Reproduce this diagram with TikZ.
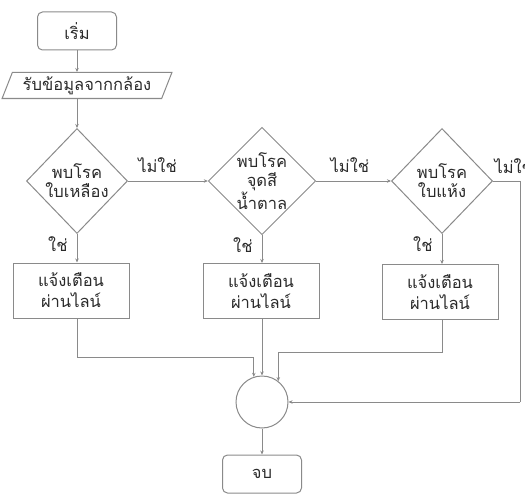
\documentclass[tikz,border=0pt]{standalone}
\usepackage{fontspec}
\newfontfamily\thaifont[Script=Thai]{Loma}
\usetikzlibrary{shapes.geometric,arrows.meta}
\definecolor{ln}{HTML}{8A8A8A}
\definecolor{tx}{HTML}{2A2A2A}
\begin{document}
\begin{tikzpicture}[x=1pt,y=-1pt,
  every node/.style={font=\thaifont\fontsize{16.5}{18}\selectfont, text=tx},
  term/.style={draw=ln, line width=1pt, rounded corners=5pt, minimum width=79pt, minimum height=38pt, inner sep=0pt},
  io/.style={draw=ln, line width=1pt, trapezium, trapezium left angle=64, trapezium right angle=116, trapezium stretches=true, minimum width=170pt, minimum height=26pt, inner sep=0pt},
  dec/.style={draw=ln, line width=1pt, diamond, minimum width=101pt, minimum height=105pt, inner sep=0pt, align=center, font=\thaifont\fontsize{16.5}{19}\selectfont},
  proc/.style={draw=ln, line width=1pt, minimum width=116pt, minimum height=55pt, inner sep=0pt, align=center, font=\thaifont\fontsize{16.5}{21}\selectfont},
  joint/.style={draw=ln, line width=1pt, circle, minimum size=52pt, inner sep=0pt},
  arr/.style={draw=ln, line width=1pt, -{Stealth[length=4pt,width=3.5pt]}},
  lbl/.style={inner sep=1pt}
]
\useasboundingbox (0,0) rectangle (525,495);
\node[term] (start) at (77,31) {เริ่ม};
\node[io] (input) at (87,85.5) {รับข้อมูลจากกล้อง};
\node[dec] (d1) at (77,181) {พบโรค\\ใบเหลือง};
\node[dec] (d2) at (262,181) {พบโรค\\จุดสี\\น้ำตาล};
\node[dec] (d3) at (442,181) {พบโรค\\ใบแห้ง};
\node[proc] (b1) at (71,290.5) {แจ้งเตือน\\ผ่านไลน์};
\node[proc] (b2) at (261,291) {แจ้งเตือน\\ผ่านไลน์};
\node[proc] (b3) at (440,292) {แจ้งเตือน\\ผ่านไลน์};
\node[joint] (j) at (262,402) {};
\node[term] (stop) at (262,474) {จบ};
\coordinate (rt) at (520,181);
\coordinate (rb) at (520,402);

\draw[arr] (start) -- (start |- input.north);
\draw[arr] (start |- input.south) -- (d1.north);
\draw[arr] (d1.east) -- node[lbl, above=7pt, pos=0.37] {ไม่ใช่} (d2.west);
\draw[arr] (d2.east) -- node[lbl, above=7pt, pos=0.45] {ไม่ใช่} (d3.west);
\draw[line width=1pt, draw=ln] (d3.east) -- node[lbl, anchor=south west, yshift=6pt, pos=0.0] {ไม่ใช่} (rt) -- (rb);
\draw[arr] (rb) -- (j.east);
\draw[arr] (d1.south) -- node[lbl, left=8pt, pos=0.35] {ใช่} (d1.south |- b1.north);
\draw[arr] (d2.south) -- node[lbl, left=8pt, pos=0.35] {ใช่} (d2.south |- b2.north);
\draw[arr] (d3.south) -- node[lbl, left=8pt, pos=0.35] {ใช่} (d3.south |- b3.north);
\draw[arr] (d1.south |- b1.south) -- (77,357) -- (j.108 |- 0,357) -- (j.108);
\draw[arr] (d2.south |- b2.south) -- (j.north);
\draw[arr] (d3.south |- b3.south) -- (442,352) -- (j.52 |- 0,352) -- (j.52);
\draw[arr] (j.south) -- (stop.north);
\end{tikzpicture}
\end{document}
